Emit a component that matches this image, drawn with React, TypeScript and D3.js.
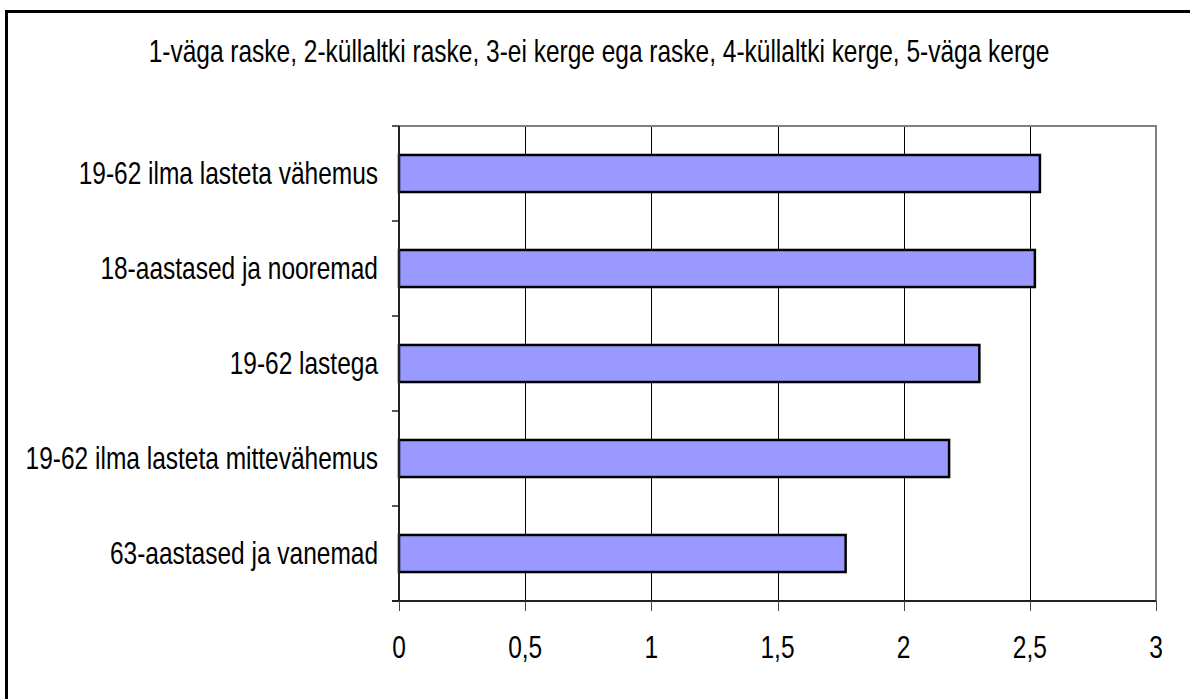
import React, { useEffect, useRef } from "react";
import * as d3 from "d3";

const title = "1-väga raske, 2-küllaltki raske, 3-ei kerge ega raske, 4-küllaltki kerge, 5-väga kerge";
const categories = [
  "19-62 ilma lasteta vähemus",
  "18-aastased ja nooremad",
  "19-62 lastega",
  "19-62 ilma lasteta mittevähemus",
  "63-aastased ja vanemad",
];
const values = [2.54, 2.52, 2.3, 2.18, 1.77];
const xTicks = [0, 0.5, 1, 1.5, 2, 2.5, 3];
const xTickLabels = ["0", "0,5", "1", "1,5", "2", "2,5", "3"];

export default function App() {
  const ref = useRef<SVGSVGElement>(null);
  useEffect(() => {
    const svg = d3.select(ref.current);
    svg.selectAll("*").remove();
    const W = 1190, H = 699;
    const left = 399, right = 1156, top = 126, bottom = 601;
    const font = "'Liberation Sans', Arial, sans-serif";
    const sx = 0.79;

    svg.append("rect").attr("width", W).attr("height", H).attr("fill", "#fff");
    svg.append("rect")
      .attr("x", 6.5).attr("y", 11.5).attr("width", 1200).attr("height", 700)
      .attr("fill", "none").attr("stroke", "#000").attr("stroke-width", 3);

    const x = d3.scaleLinear().domain([0, 3]).range([left, right]);
    const y = d3.scaleBand().domain(categories).range([top, bottom]).paddingInner(0.61).paddingOuter(0.305);
    const band = d3.scaleBand().domain(categories).range([top, bottom]);

    const addText = (g: any, tx: number, ty: number, txt: string, anchor: string, size: number) => {
      g.append("text")
        .attr("transform", `translate(${tx},${ty}) scale(${sx},1)`)
        .attr("text-anchor", anchor)
        .attr("font-family", font)
        .attr("font-size", size)
        .attr("fill", "#000")
        .text(txt);
    };

    // title
    addText(svg, 599, 62, title, "middle", 31);

    // gridlines
    svg.append("g").selectAll("line").data(xTicks.slice(1, -1)).join("line")
      .attr("x1", (d) => Math.round(x(d)) + 0.5).attr("x2", (d) => Math.round(x(d)) + 0.5)
      .attr("y1", top).attr("y2", bottom)
      .attr("stroke", "#000").attr("stroke-width", 1);

    // plot border top/right
    svg.append("path")
      .attr("d", `M${left},${top} H${right} V${bottom}`)
      .attr("fill", "none").attr("stroke", "#808080").attr("stroke-width", 2);

    // bars
    svg.append("g").selectAll("rect").data(values).join("rect")
      .attr("x", x(0))
      .attr("y", (_d, i) => y(categories[i])!)
      .attr("width", (d) => x(d) - x(0))
      .attr("height", y.bandwidth())
      .attr("fill", "#9999ff").attr("stroke", "#000").attr("stroke-width", 2.5);

    // axes
    svg.append("line").attr("x1", left).attr("x2", left).attr("y1", top).attr("y2", bottom)
      .attr("stroke", "#222").attr("stroke-width", 2);
    svg.append("line").attr("x1", left - 7).attr("x2", right).attr("y1", bottom).attr("y2", bottom)
      .attr("stroke", "#222").attr("stroke-width", 2);

    // y ticks at band boundaries
    const bounds = categories.map((c) => band(c)!).concat([bottom]);
    svg.append("g").selectAll("line").data(bounds).join("line")
      .attr("x1", left - 7).attr("x2", left).attr("y1", (d) => d).attr("y2", (d) => d)
      .attr("stroke", "#222").attr("stroke-width", 1.5);

    // x ticks
    svg.append("g").selectAll("line").data(xTicks).join("line")
      .attr("x1", (d) => Math.round(x(d)) + 0.5).attr("x2", (d) => Math.round(x(d)) + 0.5)
      .attr("y1", bottom).attr("y2", bottom + 10)
      .attr("stroke", "#444").attr("stroke-width", 1);

    // category labels
    const lg = svg.append("g");
    categories.forEach((c) => {
      addText(lg, 378, band(c)! + band.bandwidth() / 2 + 10, c, "end", 31);
    });

    // x tick labels
    const tg = svg.append("g");
    xTicks.forEach((t, i) => {
      addText(tg, x(t), 658, xTickLabels[i], "middle", 31);
    });
  }, []);
  return <svg ref={ref} width={1190} height={699} style={{ display: "block", position: "absolute", left: 0, top: 0 }} />;
}
